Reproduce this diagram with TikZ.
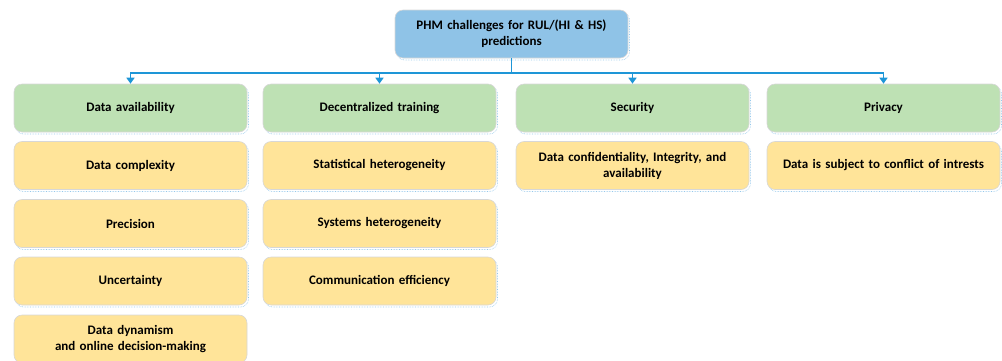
\documentclass[tikz,border=0pt]{standalone}
\usepackage{fontspec}
\setmainfont{Carlito}
\usetikzlibrary{arrows.meta}
\definecolor{topblue}{RGB}{143,195,231}
\definecolor{catgreen}{RGB}{190,225,180}
\definecolor{itemyellow}{RGB}{255,228,153}
\definecolor{linkblue}{RGB}{30,150,215}
\definecolor{rimgray}{RGB}{215,215,215}
\definecolor{shadeblue}{RGB}{150,200,235}
\tikzset{
  box/.style={draw=rimgray, line width=0.6pt, rounded corners=8pt, minimum width=233pt, minimum height=48pt,
    align=center, font=\bfseries\fontsize{13}{16}\selectfont, inner sep=2pt, text width=229pt},
  topbox/.style={box, fill=topblue},
  catbox/.style={box, fill=catgreen},
  itembox/.style={box, fill=itemyellow},
  conn/.style={draw=linkblue, line width=1.6pt, -{Triangle[length=6pt,width=8pt]}},
  busline/.style={draw=linkblue, line width=1.6pt},
}
\newcommand{\shadowrect}[4]{\draw[shadeblue, densely dotted, line width=0.6pt, rounded corners=8pt] (#1+1.5,#2+2) rectangle (#3+1.5,#4+2);}
\begin{document}
\begin{tikzpicture}[x=1pt,y=-1pt]
\useasboundingbox (0,0) rectangle (1002,360);
% shadows
\shadowrect{395}{10}{628}{58}
\foreach \xl in {14,263,516,767}{
  \shadowrect{\xl}{84}{\xl+233}{132}
}
\foreach \yt in {141.5,199.5,257}{ \shadowrect{14}{\yt}{247}{\yt+48} }
\foreach \yt in {141.5,199.5,257}{ \shadowrect{263}{\yt}{496}{\yt+48} }
\shadowrect{516}{141.5}{749}{189.5}
\shadowrect{767}{141.5}{1000}{189.5}

\node[topbox] (top) at (511.5,34) {PHM challenges for RUL/(HI \& HS)\\predictions};

\node[catbox] (g1) at (130.5,108) {Data availability};
\node[catbox] (g2) at (379.5,108) {Decentralized training};
\node[catbox] (g3) at (632.5,108) {Security};
\node[catbox] (g4) at (883.5,108) {Privacy};

\node[itembox] (a1) at (130.5,165.5) {Data complexity};
\node[itembox] (a2) at (130.5,223.5) {Precision};
\node[itembox] (a3) at (130.5,281) {Uncertainty};
\node[itembox] (a4) at (130.5,339) {Data dynamism\\and online decision-making};

\node[itembox] (b1) at (379.5,165.5) {Statistical heterogeneity};
\node[itembox] (b2) at (379.5,223.5) {Systems heterogeneity};
\node[itembox] (b3) at (379.5,281) {Communication efficiency};

\node[itembox] (c1) at (632.5,165.5) {Data confidentiality, Integrity, and\\availability};
\node[itembox] (d1) at (883.5,165.5) {Data is subject to conflict of intrests};

\coordinate (bus) at (511.5,73);
\draw[busline] (top.south) -- (bus);
\foreach \g in {g1,g2,g3,g4}{
  \draw[conn] (bus) -| (\g.north);
}
\end{tikzpicture}
\end{document}
